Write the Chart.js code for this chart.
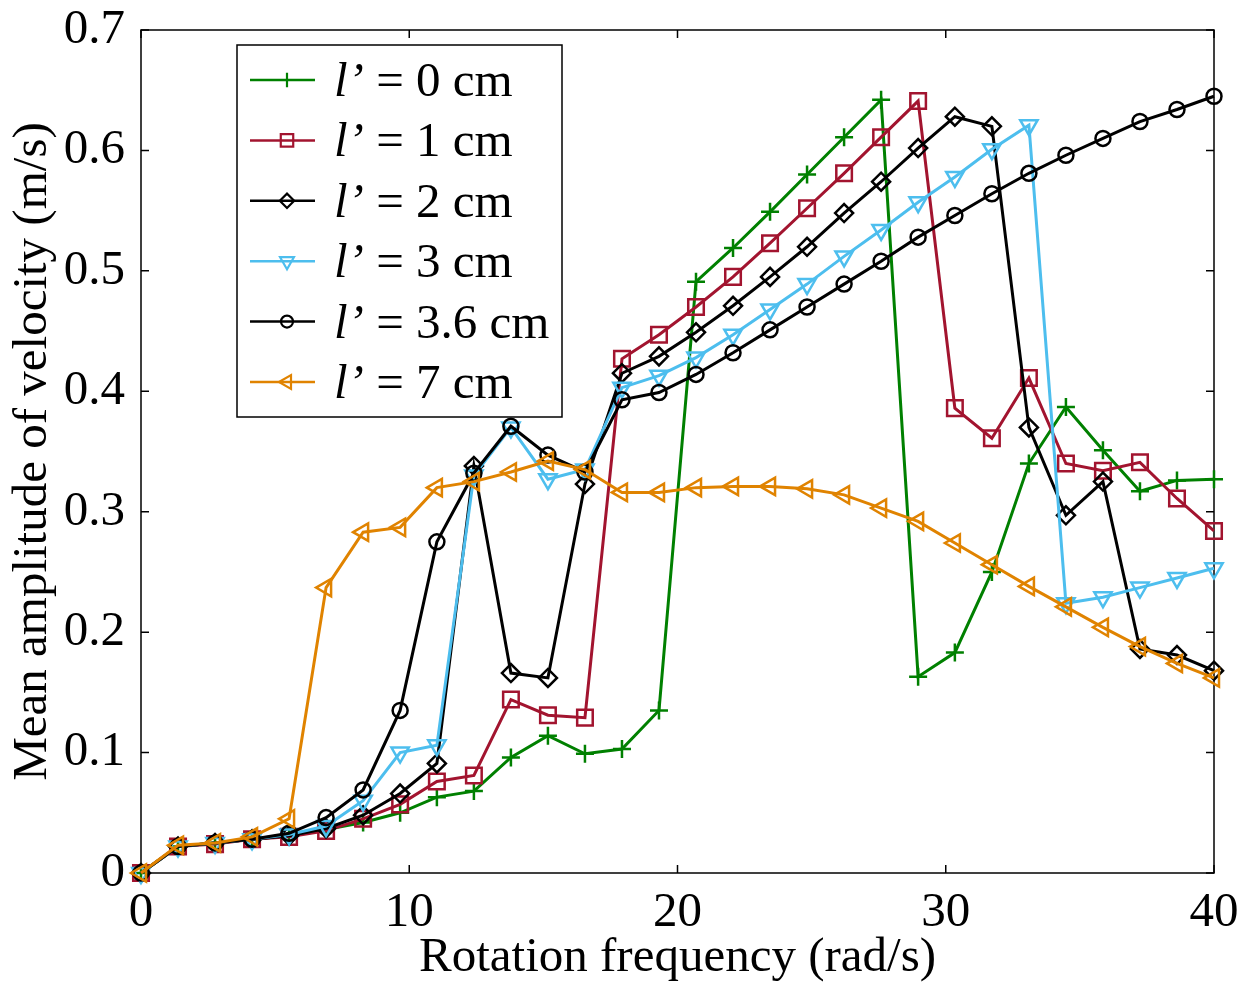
<!DOCTYPE html>
<html><head><meta charset="utf-8">
<script src="https://cdn.jsdelivr.net/npm/chart.js@4/dist/chart.umd.min.js"></script>
<style>html,body{margin:0;padding:0;background:#fff;overflow:hidden}#wrap{width:1242px;height:984px;position:relative}</style>
</head><body><div id="wrap"><canvas id="c" width="1242" height="984"></canvas></div>
<script>
// ---- data ----
const xValues = [0, 1.38, 2.76, 4.14, 5.52, 6.9, 8.28, 9.66, 11.03, 12.41, 13.79, 15.17, 16.55, 17.93, 19.31, 20.69, 22.07, 23.45, 24.83, 26.21, 27.59, 28.97, 30.34, 31.72, 33.1, 34.48, 35.86, 37.24, 38.62, 40];
const seriesLabels = ['l\u2019 = 0 cm', 'l\u2019 = 1 cm', 'l\u2019 = 2 cm', 'l\u2019 = 3 cm', 'l\u2019 = 3.6 cm', 'l\u2019 = 7 cm'];
const v0cm  = [0, 0.022, 0.025, 0.028, 0.031, 0.036, 0.042, 0.050, 0.063, 0.068, 0.096, 0.114, 0.099, 0.103, 0.135, 0.491, 0.519, 0.549, 0.580, 0.611, 0.642, 0.163, 0.183, 0.250, 0.340, 0.387, 0.351, 0.317, 0.326, 0.327];
const v1cm  = [0, 0.022, 0.024, 0.028, 0.030, 0.035, 0.045, 0.057, 0.076, 0.081, 0.144, 0.131, 0.129, 0.427, 0.447, 0.470, 0.495, 0.523, 0.552, 0.581, 0.611, 0.641, 0.386, 0.361, 0.411, 0.340, 0.334, 0.341, 0.311, 0.284];
const v2cm  = [0, 0.022, 0.025, 0.028, 0.031, 0.037, 0.048, 0.066, 0.091, 0.338, 0.166, 0.162, 0.323, 0.415, 0.429, 0.449, 0.471, 0.495, 0.520, 0.548, 0.574, 0.602, 0.628, 0.620, 0.370, 0.297, 0.325, 0.186, 0.181, 0.168];
const v3cm  = [0, 0.022, 0.025, 0.028, 0.032, 0.039, 0.060, 0.100, 0.106, 0.330, 0.370, 0.327, 0.335, 0.403, 0.413, 0.428, 0.447, 0.468, 0.489, 0.512, 0.534, 0.557, 0.578, 0.601, 0.621, 0.224, 0.229, 0.237, 0.245, 0.253];
const v36cm = [0, 0.022, 0.025, 0.028, 0.033, 0.046, 0.069, 0.135, 0.275, 0.332, 0.371, 0.347, 0.333, 0.393, 0.399, 0.414, 0.432, 0.451, 0.470, 0.489, 0.508, 0.528, 0.546, 0.564, 0.581, 0.596, 0.610, 0.624, 0.634, 0.645];
const v7cm  = [0, 0.023, 0.025, 0.030, 0.045, 0.237, 0.283, 0.287, 0.320, 0.325, 0.333, 0.342, 0.335, 0.316, 0.316, 0.320, 0.321, 0.321, 0.319, 0.314, 0.303, 0.292, 0.274, 0.256, 0.238, 0.221, 0.204, 0.188, 0.174, 0.162];
const xTicks = [0, 10, 20, 30, 40];
const yTicks = [0, 0.1, 0.2, 0.3, 0.4, 0.5, 0.6, 0.7];
const xTitle = 'Rotation frequency (rad/s)';
const yTitle = 'Mean amplitude of velocity (m/s)';

// ---- styles ----
const FONT = '"Liberation Serif", "Times New Roman", serif';
const FS = 49;
const styles = [
  {color:'#008000', style:'cross',    radius:9,  rot:0},
  {color:'#A2142F', style:'rect',     radius:11, rot:0},
  {color:'#000000', style:'rectRot',  radius:9,  rot:0},
  {color:'#4DBEEE', style:'triangle', radius:10, rot:180},
  {color:'#000000', style:'circle',   radius:7.5,rot:0},
  {color:'#E08300', style:'triangle', radius:10, rot:270}
];
const allSeries = [v0cm, v1cm, v2cm, v3cm, v36cm, v7cm];

const datasets = allSeries.map((arr, i) => ({
  label: seriesLabels[i],
  data: arr.map((y, j) => ({x: xValues[j], y: y})),
  borderColor: styles[i].color,
  borderWidth: 3,
  pointStyle: styles[i].style,
  pointRadius: styles[i].radius,
  pointRotation: styles[i].rot,
  pointBorderWidth: 2.5,
  pointBorderColor: styles[i].color,
  pointBackgroundColor: 'rgba(255,255,255,0)',
  tension: 0,
  clip: false,
  order: allSeries.length - 1 - i
}));

const framePlugin = {
  id: 'frame',
  beforeDatasetsDraw(chart) {
    const {ctx, chartArea: a, scales} = chart;
    ctx.save();
    ctx.strokeStyle = '#000';
    ctx.lineWidth = 1.5;
    ctx.strokeRect(a.left, a.top, a.right - a.left, a.bottom - a.top);
    const L = 8;
    ctx.beginPath();
    xTicks.forEach(v => {
      const px = scales.x.getPixelForValue(v);
      ctx.moveTo(px, a.bottom); ctx.lineTo(px, a.bottom - L);
      ctx.moveTo(px, a.top); ctx.lineTo(px, a.top + L);
    });
    yTicks.forEach(v => {
      const py = scales.y.getPixelForValue(v);
      ctx.moveTo(a.left, py); ctx.lineTo(a.left + L, py);
      ctx.moveTo(a.right, py); ctx.lineTo(a.right - L, py);
    });
    ctx.stroke();
    ctx.restore();
  }
};

function drawMarker(ctx, st, x, y, r) {
  Chart.helpers.drawPoint(ctx, {pointStyle: st.style, radius: r, rotation: st.rot, borderWidth: 2}, x, y);
}

const legendPlugin = {
  id: 'customLegend',
  afterDatasetsDraw(chart) {
    const ctx = chart.ctx;
    const box = {l: 237, t: 45, r: 562, b: 417};
    ctx.save();
    ctx.fillStyle = '#fff';
    ctx.fillRect(box.l, box.t, box.r - box.l, box.b - box.t);
    ctx.strokeStyle = '#000';
    ctx.lineWidth = 1.5;
    ctx.strokeRect(box.l, box.t, box.r - box.l, box.b - box.t);
    const rowH = 60.4;
    chart.data.datasets.forEach((ds, i) => {
      const cy = 80 + i * rowH;
      const st = styles[i];
      ctx.strokeStyle = st.color;
      ctx.lineWidth = 2.5;
      ctx.beginPath(); ctx.moveTo(250, cy); ctx.lineTo(315, cy); ctx.stroke();
      ctx.strokeStyle = st.color;
      ctx.fillStyle = 'rgba(255,255,255,0)';
      ctx.lineWidth = 2.2;
      drawMarker(ctx, st, 287, cy, st.radius * 0.8);
      const label = ds.label;
      const pre = label.slice(0, 2);
      const rest = label.slice(2);
      ctx.fillStyle = '#000';
      ctx.textBaseline = 'alphabetic';
      ctx.textAlign = 'left';
      ctx.font = 'italic ' + FS + 'px ' + FONT;
      ctx.fillText(pre, 334, cy + 16);
      const w = ctx.measureText(pre).width;
      ctx.font = FS + 'px ' + FONT;
      ctx.fillText(rest, 334 + w, cy + 16);
    });
    ctx.restore();
  }
};

new Chart(document.getElementById('c'), {
  type: 'line',
  data: {datasets},
  options: {
    responsive: false,
    animation: false,
    devicePixelRatio: 1,
    layout: {padding: {top: 30, right: 28, left: 0, bottom: 0}},
    plugins: {legend: {display: false}, tooltip: {enabled: false}},
    scales: {
      x: {
        type: 'linear', min: 0, max: 40,
        afterFit(s) { s.height = 111; s.paddingLeft = 0; s.paddingRight = 0; },
        afterBuildTicks(s) { s.ticks = xTicks.map(v => ({value: v})); },
        grid: {display: false},
        border: {display: false},
        ticks: {color: '#000', font: {family: FONT, size: FS}, padding: 3, maxRotation: 0,
                callback: v => String(v)},
        title: {display: true, text: xTitle, color: '#000', font: {family: FONT, size: FS}, padding: {top: 0, bottom: -4}}
      },
      y: {
        type: 'linear', min: 0, max: 0.7,
        afterFit(s) { s.width = 141; s.paddingTop = 0; s.paddingBottom = 0; },
        afterBuildTicks(s) { s.ticks = yTicks.map(v => ({value: v})); },
        grid: {display: false},
        border: {display: false},
        ticks: {color: '#000', font: {family: FONT, size: FS}, padding: 8,
                callback: v => v === 0 ? '0' : Number(v).toFixed(1)},
        title: {display: true, text: yTitle, color: '#000', font: {family: FONT, size: FS}, padding: {top: 4, bottom: 0}}
      }
    }
  },
  plugins: [framePlugin, legendPlugin]
});
</script>
</body></html>
